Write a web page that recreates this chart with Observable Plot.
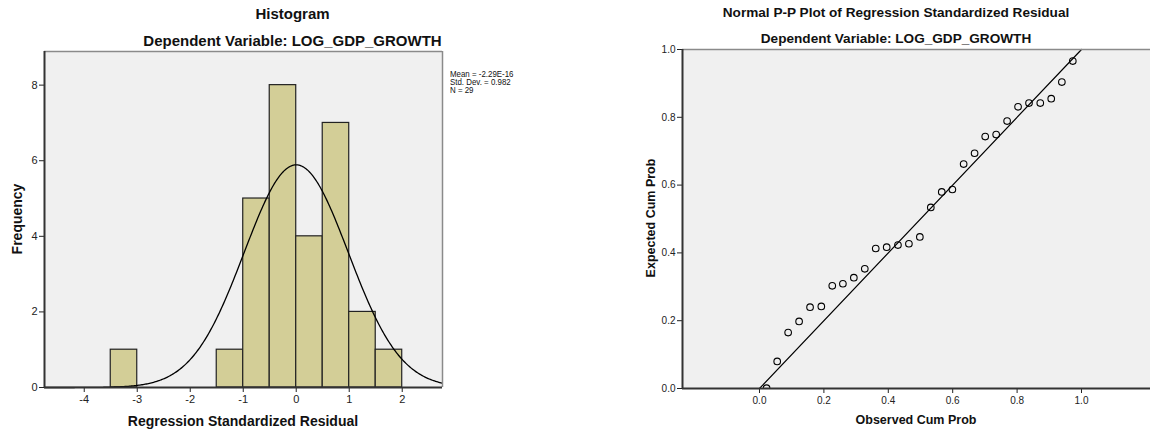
<!DOCTYPE html>
<html>
<head>
<meta charset="utf-8">
<script src="https://cdn.jsdelivr.net/npm/d3@7"></script>
<script src="https://cdn.jsdelivr.net/npm/@observablehq/plot@0.6"></script>
<style>
  html, body { margin: 0; padding: 0; background: #fff; }
  #wrap { position: relative; width: 1150px; height: 433px; overflow: hidden; font-family: "Liberation Sans", Arial, sans-serif; color: #111; }
  .abs { position: absolute; }
  .t { position: absolute; white-space: nowrap; transform: translate(-50%, -50%); font-weight: bold; }
  .rot { position: absolute; white-space: nowrap; transform: translate(-50%, -50%) rotate(-90deg); font-weight: bold; }
  .leg { position: absolute; white-space: pre; font-size: 9.2px; line-height: 8px; color: #111; transform: scaleX(0.86); transform-origin: 0 0; }
</style>
</head>
<body>
<div id="wrap"></div>
<script>
// ---------- Histogram data ----------
const binStarts = [-3.5, -1.5, -1.0, -0.5, 0.0, 0.5, 1.0, 1.5];
const binCounts = [1, 1, 5, 8, 4, 7, 2, 1];
const binWidth = 0.5;
const residMean = -2.29e-16;
const residSD = 0.982;
const residN = 29;
const histXTicks = [-4, -3, -2, -1, 0, 1, 2];
const histYTicks = [0, 2, 4, 6, 8];
const histXDomain = [-4.75, 2.76];
const histYDomain = [0, 8.89];
const legendLines = ["Mean = -2.29E-16", "Std. Dev. = 0.982", "N = 29"];

// ---------- P-P plot data ----------
const observedCumProb = [0.022, 0.055, 0.089, 0.123, 0.157, 0.192, 0.226, 0.259, 0.293, 0.327,
  0.361, 0.395, 0.430, 0.464, 0.498, 0.532, 0.566, 0.599, 0.634, 0.668,
  0.701, 0.735, 0.769, 0.803, 0.837, 0.872, 0.906, 0.939, 0.973];
const expectedCumProb = [0.001, 0.080, 0.165, 0.198, 0.240, 0.242, 0.303, 0.309, 0.327, 0.353,
  0.413, 0.417, 0.423, 0.427, 0.447, 0.534, 0.580, 0.587, 0.662, 0.694,
  0.743, 0.749, 0.789, 0.831, 0.842, 0.842, 0.855, 0.904, 0.966];
const ppTicks = [0, 0.2, 0.4, 0.6, 0.8, 1.0];
const refLine = [0, 1];
const ppXDomain = [-0.2391, 1.2143];
const ppYDomain = [0, 1];

const wrap = document.getElementById("wrap");

// bins table
const bins = binStarts.map((s, i) => ({x1: s, x2: s + binWidth, count: binCounts[i]}));
// normal curve scaled to frequency (N * binWidth * pdf)
const curve = d3.range(histXDomain[0], histXDomain[1] + 0.001, 0.02).map(x => ({
  x, y: residN * binWidth * Math.exp(-0.5 * ((x - residMean) / residSD) ** 2) / (residSD * Math.sqrt(2 * Math.PI))
}));

const hist = Plot.plot({
  width: 450, height: 433,
  marginLeft: 44, marginRight: 8, marginTop: 51, marginBottom: 46,
  style: {fontFamily: "'Liberation Sans', Arial, sans-serif", fontSize: "11px", color: "#222", background: "transparent", overflow: "visible"},
  x: {domain: histXDomain, ticks: histXTicks, tickSize: 5, tickPadding: 3, tickFormat: d => String(d), label: null},
  y: {domain: histYDomain, ticks: histYTicks, tickSize: 5, tickPadding: 2, tickFormat: d => String(d), label: null},
  marks: [
    Plot.frame({fill: "#f0f0f0", stroke: null}),
    Plot.rectY(bins, {x1: "x1", x2: "x2", y: "count", fill: "#d3ce97", stroke: "#222", strokeWidth: 1.2}),
    Plot.line(curve, {x: "x", y: "y", stroke: "#000", strokeWidth: 1.3}),
    Plot.ruleY([histYDomain[1]], {stroke: "#8a8a8a", strokeWidth: 1.5}),
    Plot.ruleX([histXDomain[1]], {stroke: "#8a8a8a", strokeWidth: 1.5}),
    Plot.ruleX([histXDomain[0]], {stroke: "#333", strokeWidth: 2}),
    Plot.ruleY([0], {stroke: "#333", strokeWidth: 2})
  ]
});
hist.classList.add("abs");
hist.style.left = "0px"; hist.style.top = "0px";
wrap.appendChild(hist);

const pp = observedCumProb.map((o, i) => ({o, e: expectedCumProb[i]}));
const ppPlot = Plot.plot({
  width: 550, height: 433,
  marginLeft: 82, marginRight: 0, marginTop: 49, marginBottom: 45,
  style: {fontFamily: "'Liberation Sans', Arial, sans-serif", fontSize: "10px", color: "#222", background: "transparent", overflow: "visible"},
  x: {domain: ppXDomain, ticks: ppTicks, tickSize: 5, tickPadding: 3, tickFormat: d3.format(".1f"), label: null},
  y: {domain: ppYDomain, ticks: ppTicks, tickSize: 5, tickPadding: 2, tickFormat: d3.format(".1f"), label: null},
  marks: [
    Plot.frame({fill: "#f0f0f0", stroke: null}),
    Plot.line(refLine, {x: d => d, y: d => d, stroke: "#000", strokeWidth: 1.2}),
    Plot.dot(pp, {x: "o", y: "e", r: 3.3, stroke: "#000", strokeWidth: 1.1, fill: "none", clip: true}),
    Plot.ruleY([ppYDomain[1]], {stroke: "#8a8a8a", strokeWidth: 1.5}),
    Plot.ruleX([ppXDomain[0]], {stroke: "#333", strokeWidth: 2}),
    Plot.ruleY([ppYDomain[0]], {stroke: "#333", strokeWidth: 2})
  ]
});
ppPlot.classList.add("abs");
ppPlot.style.left = "600px"; ppPlot.style.top = "0px";
wrap.appendChild(ppPlot);

function txt(cls, s, x, y, size) {
  const d = document.createElement("div");
  d.className = cls; d.textContent = s;
  d.style.left = x + "px"; d.style.top = y + "px"; d.style.fontSize = size + "px";
  wrap.appendChild(d);
}
// histogram texts
txt("t", "Histogram", 292.5, 13, 15);
txt("t", "Dependent Variable: LOG_GDP_GROWTH", 292.5, 39.5, 15);
txt("t", "Regression Standardized Residual", 243, 420.5, 14);
txt("rot", "Frequency", 16.5, 218.5, 14);
const leg = document.createElement("div");
leg.className = "leg";
leg.textContent = legendLines.join("\n");
leg.style.left = "450px"; leg.style.top = "70px";
wrap.appendChild(leg);
// P-P texts
txt("t", "Normal P-P Plot of Regression Standardized Residual", 896, 12, 13.6);
txt("t", "Dependent Variable: LOG_GDP_GROWTH", 896, 38, 13.6);
txt("t", "Observed Cum Prob", 916, 420, 12.5);
txt("rot", "Expected Cum Prob", 651, 218, 12.5);
</script>
</body>
</html>
